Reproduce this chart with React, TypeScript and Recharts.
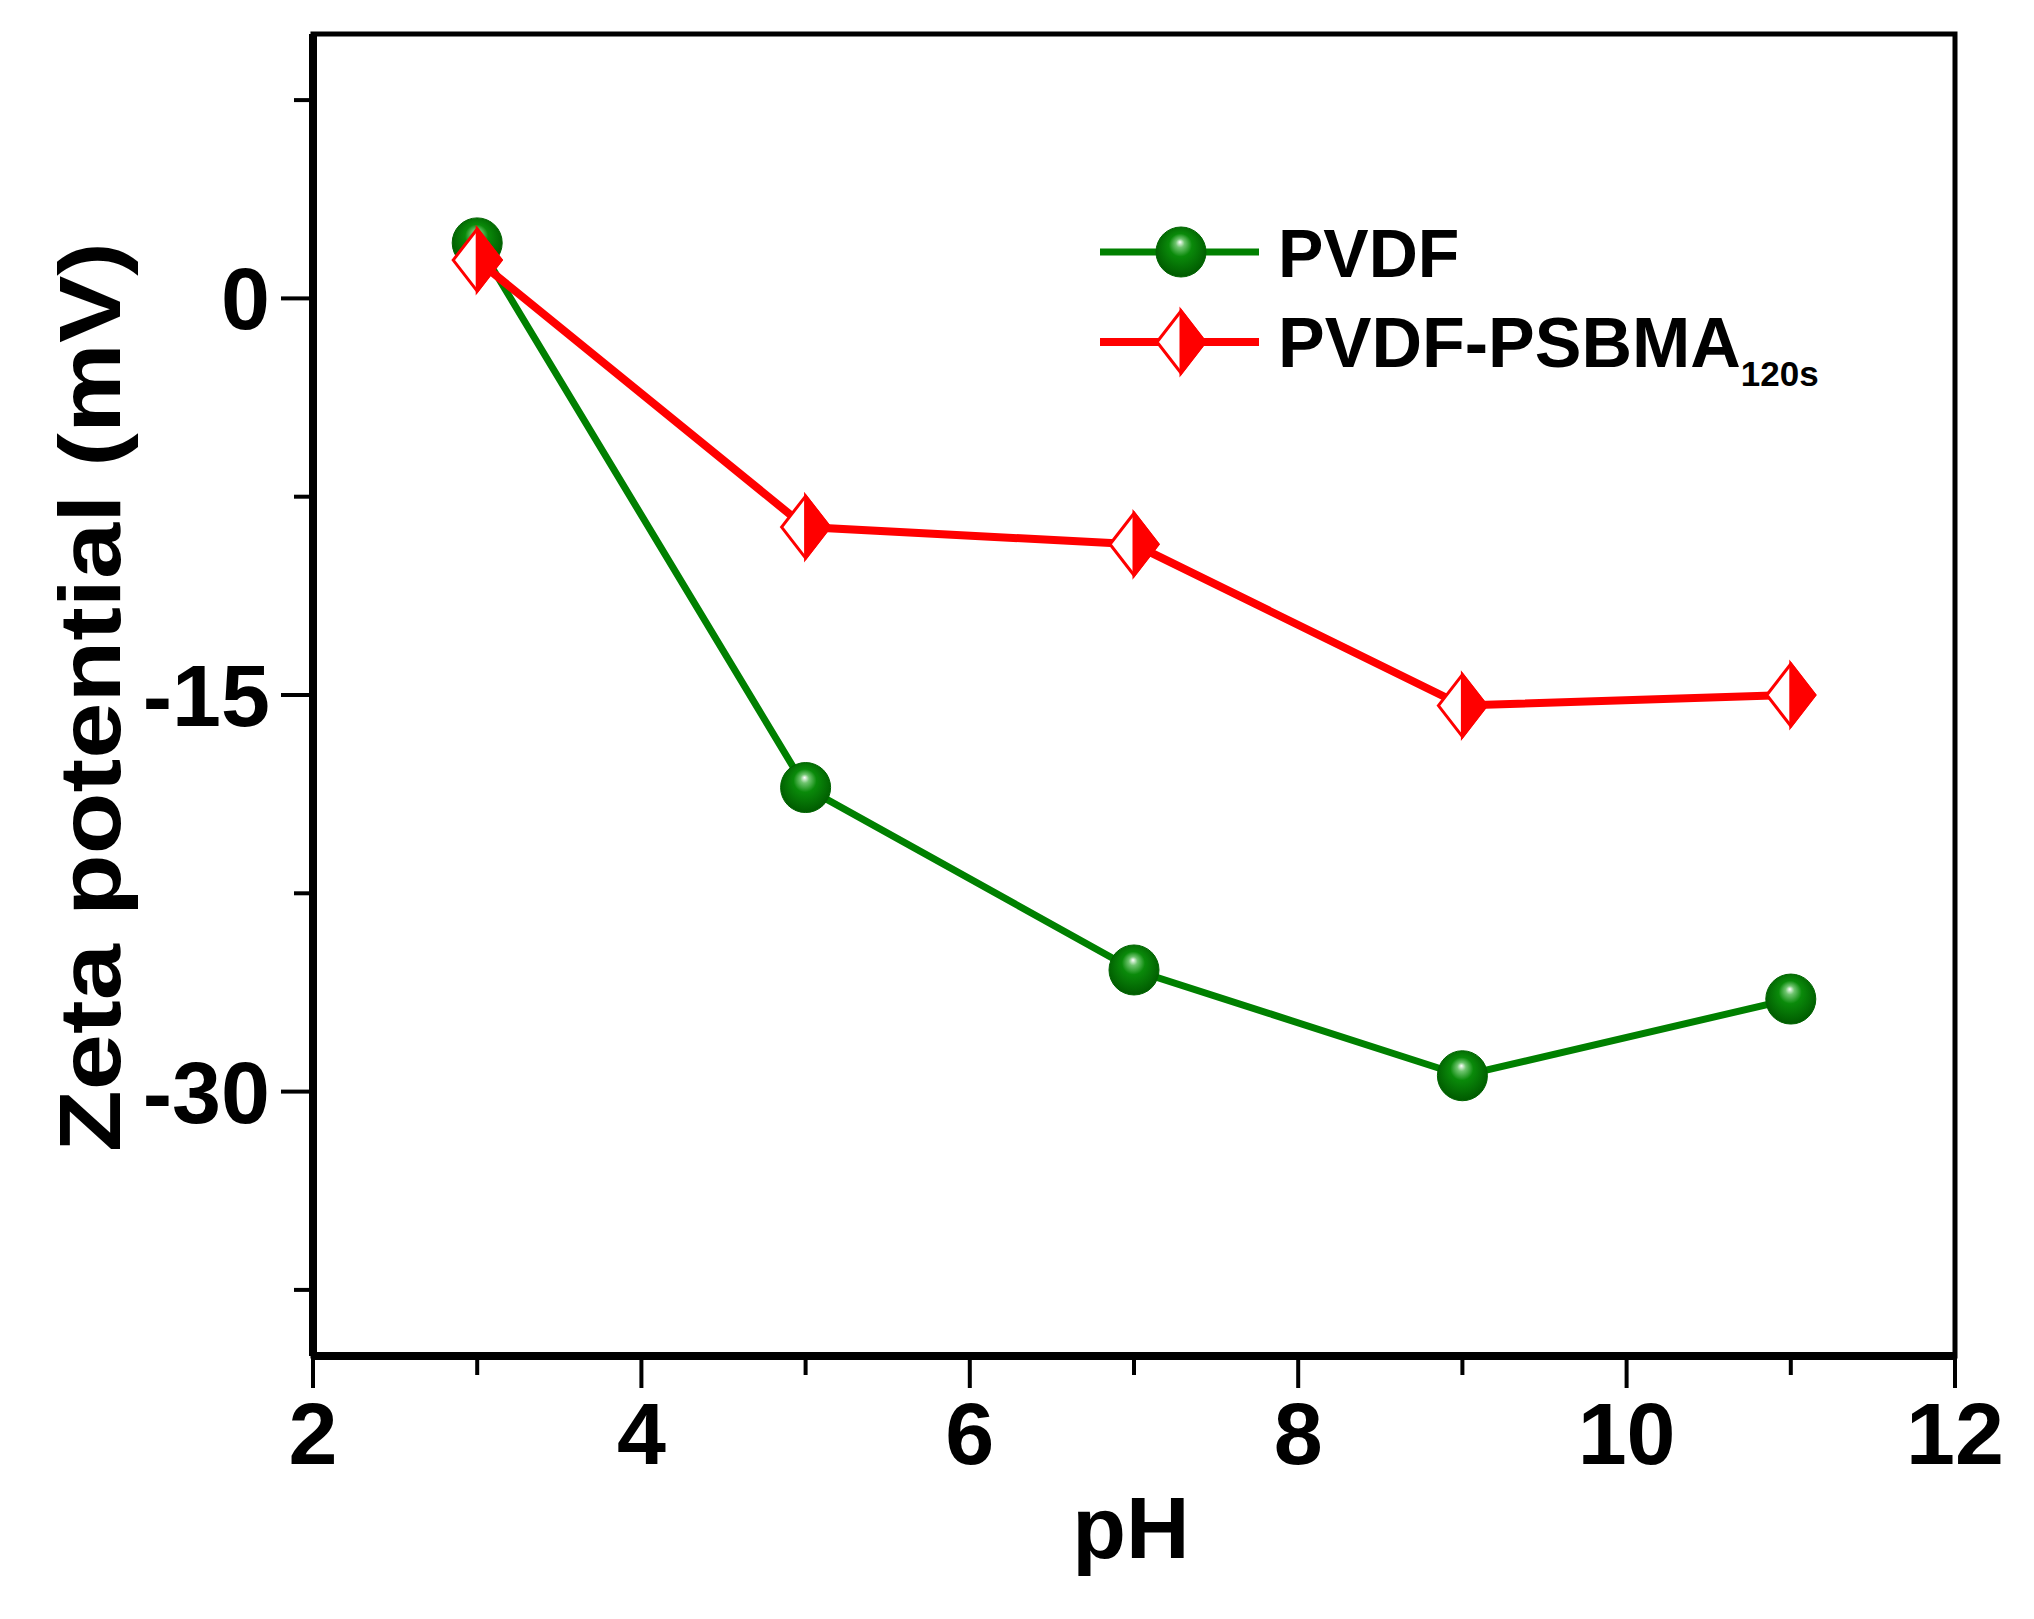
import React from 'react';
import { LineChart, Line, XAxis, YAxis, ReferenceArea, Legend } from 'recharts';

const PH = [3, 5, 7, 9, 11];
const PVDF = [2.1, -18.5, -25.4, -29.4, -26.5];
const PVDF_PSBMA = [1.45, -8.65, -9.3, -15.4, -15.0];

const X_TICKS = [2, 3, 4, 5, 6, 7, 8, 9, 10, 11, 12];
const X_LABELS = [2, 4, 6, 8, 10, 12];
const Y_TICKS = [-37.5, -30, -22.5, -15, -7.5, 0, 7.5];
const Y_LABELS = [-30, -15, 0];

const rows = PH.map((ph, i) => ({ ph, pvdf: PVDF[i], psbma: PVDF_PSBMA[i] }));

const FONT = "'Liberation Sans', Arial, sans-serif";
const GREEN = '#008000';
const RED = '#ff0000';

const XTick = ({ x, y, payload }: any) => {
  const major = X_LABELS.includes(payload.value);
  return (
    <g>
      <line x1={x} x2={x} y1={y} y2={y + (major ? 32 : 19)} stroke="#000" strokeWidth={4} />
      {major && (
        <text x={x} y={y + 108} textAnchor="middle" fontSize={88} fontWeight="bold" fontFamily={FONT} fill="#000">
          {payload.value}
        </text>
      )}
    </g>
  );
};

const YTick = ({ x, y, payload }: any) => {
  const major = Y_LABELS.includes(payload.value);
  return (
    <g>
      <line x1={x} x2={x - (major ? 32 : 19)} y1={y} y2={y} stroke="#000" strokeWidth={4} />
      {major && (
        <text x={x - 43} y={y + 31} textAnchor="end" fontSize={88} fontWeight="bold" fontFamily={FONT} fill="#000">
          {payload.value}
        </text>
      )}
    </g>
  );
};

const Sphere = ({ cx, cy }: any) => {
  if (cx == null || cy == null) return null;
  return <circle cx={cx} cy={cy} r={25} fill="url(#sphereGrad)" stroke="#006400" strokeWidth={1} />;
};

const HalfDiamond = ({ cx, cy }: any) => {
  if (cx == null || cy == null) return null;
  const w = 24;
  const h = 31;
  return (
    <g>
      <path d={`M${cx - w},${cy} L${cx},${cy - h} L${cx + w},${cy} L${cx},${cy + h} Z`} fill="#fff" stroke={RED} strokeWidth={3} />
      <path d={`M${cx},${cy - h} L${cx + w},${cy} L${cx},${cy + h} Z`} fill={RED} stroke={RED} strokeWidth={3} />
    </g>
  );
};

const LegendBox = () => (
  <svg width={800} height={210} style={{ overflow: 'visible' }}>
    <line x1={16} x2={175} y1={52} y2={52} stroke={GREEN} strokeWidth={7} />
    <Sphere cx={97} cy={52} />
    <text x={194} y={77} fontSize={68} fontWeight="bold" fontFamily={FONT} fill="#000">PVDF</text>
    <line x1={16} x2={175} y1={142} y2={142} stroke={RED} strokeWidth={8} />
    <HalfDiamond cx={97} cy={142} />
    <text x={194} y={167} fontSize={70} fontWeight="bold" fontFamily={FONT} fill="#000">
      PVDF-PSBMA
      <tspan fontSize={35} dy={19}>120s</tspan>
    </text>
  </svg>
);

export default function App() {
  return (
    <div style={{ width: 2034, height: 1619, background: '#fff' }}>
      <style>{'body{margin:0}'}</style>
      <LineChart width={2034} height={1619} data={rows} margin={{ top: 34, right: 79, bottom: 0, left: 0 }}>
        <defs>
          <radialGradient id="sphereGrad" cx="50%" cy="45%" r="55%" fx="48%" fy="30%">
            <stop offset="0%" stopColor="#ffffff" />
            <stop offset="16%" stopColor="#6fc46f" />
            <stop offset="42%" stopColor="#0a8a0a" />
            <stop offset="100%" stopColor="#005a00" />
          </radialGradient>
        </defs>
        <XAxis
          dataKey="ph"
          type="number"
          domain={[2, 12]}
          ticks={X_TICKS}
          interval={0}
          height={263}
          tickSize={0}
          tickMargin={0}
          tickLine={false}
          axisLine={{ stroke: '#000', strokeWidth: 8 }}
          tick={<XTick />}
          label={{
            content: () => (
              <text x={1131} y={1558} textAnchor="middle" fontSize={88} fontWeight="bold" fontFamily={FONT} fill="#000">
                pH
              </text>
            ),
          }}
        />
        <YAxis
          type="number"
          domain={[-40, 10]}
          ticks={Y_TICKS}
          interval={0}
          width={313}
          tickSize={0}
          tickMargin={0}
          tickLine={false}
          axisLine={{ stroke: '#000', strokeWidth: 8 }}
          tick={<YTick />}
          label={{
            content: () => (
              <text
                x={120}
                y={697}
                transform="rotate(-90 120 697)"
                textAnchor="middle"
                fontSize={88}
                fontWeight="bold"
                fontFamily={FONT}
                fill="#000"
                textLength={910}
                lengthAdjust="spacingAndGlyphs"
              >
                Zeta potential (mV)
              </text>
            ),
          }}
        />
        <ReferenceArea x1={2} x2={12} y1={-40} y2={10} fill="none" stroke="#000" strokeWidth={5} ifOverflow="visible" />
        <Line
          dataKey="pvdf"
          name="PVDF"
          stroke={GREEN}
          strokeWidth={7}
          dot={<Sphere />}
          activeDot={false}
          isAnimationActive={false}
        />
        <Line
          dataKey="psbma"
          name="PVDF-PSBMA120s"
          stroke={RED}
          strokeWidth={8}
          dot={<HalfDiamond />}
          activeDot={false}
          isAnimationActive={false}
        />
        <Legend
          layout="vertical"
          align="center"
          verticalAlign="middle"
          wrapperStyle={{ left: 1084, top: 200, width: 800, height: 210 }}
          content={() => <LegendBox />}
        />
      </LineChart>
    </div>
  );
}
